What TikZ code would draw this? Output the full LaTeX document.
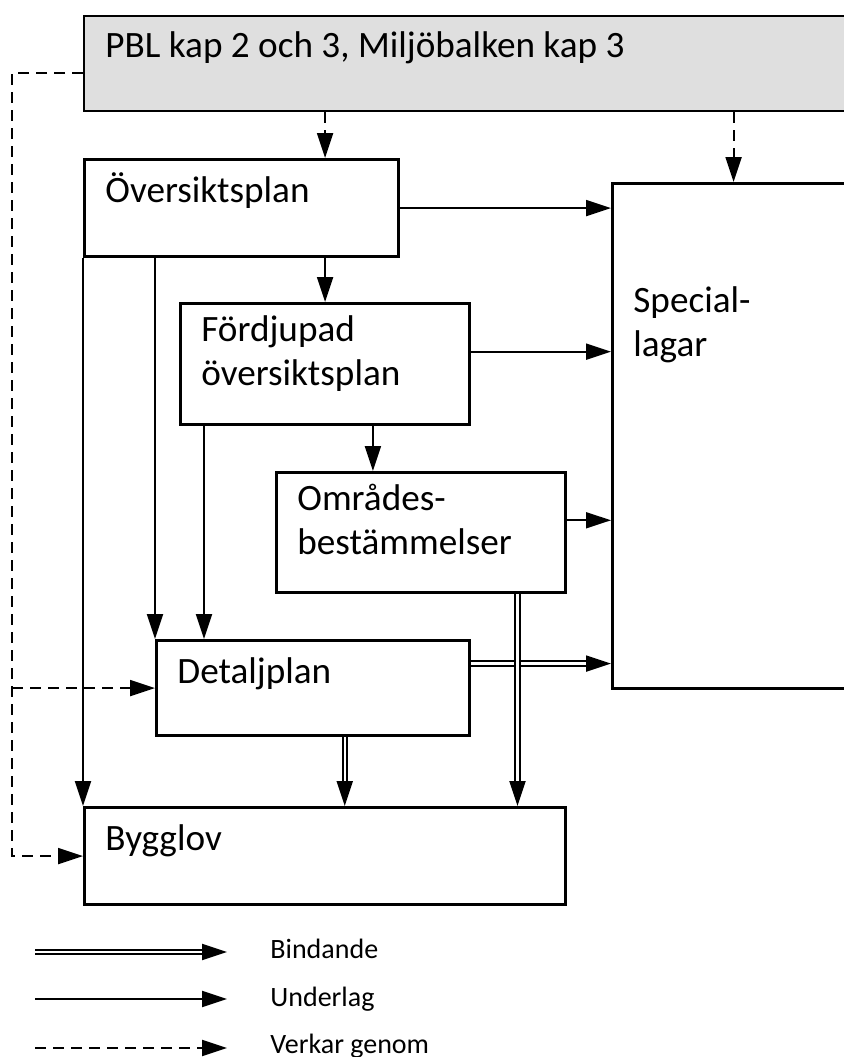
\documentclass[tikz,border=0pt]{standalone}
\usepackage{fontspec}
\setmainfont{Carlito}
\usetikzlibrary{positioning,arrows.meta,calc}

\begin{document}
\begin{tikzpicture}[x=0.5pt, y=-0.5pt,
box/.style={draw=black, line width=1.6pt, rectangle, anchor=north west, inner sep=0pt},
boxtext/.style={anchor=north west, inner sep=0pt, xshift=11pt, yshift=-6.6pt, align=left, font=\fontsize{18.6}{22}\selectfont, execute at begin node=\strut},
under/.style={line width=1pt, -{Triangle[length=12.5pt,width=8pt]}},
bind/.style={under, double, double distance=1.2pt},
verk/.style={under, dash pattern=on 5.5pt off 3.5pt},
legtext/.style={anchor=base west, inner sep=0pt, font=\fontsize{14}{17}\selectfont}
]
    \useasboundingbox (0,0) rectangle (844,1057);

    %Boxes
    \node[box, fill=gray!25, line width=1pt, minimum width=388.5pt, minimum height=47.5pt,
        label={[boxtext, yshift=1pt]north west:PBL kap 2 och 3, Miljöbalken kap 3}]
        (pbl) at (83,15) {};
    \node[box, minimum width=157pt, minimum height=48.5pt,
        label={[boxtext]north west:Översiktsplan}]
        (ov) at (83,158) {};
    \node[box, minimum width=121pt, minimum height=252.5pt,
        label={[boxtext, yshift=-45.5pt]north west:Special-\\lagar}]
        (sp) at (611,182) {};
    \node[box, minimum width=144.5pt, minimum height=60.5pt,
        label={[boxtext]north west:Fördjupad\\översiktsplan}]
        (fd) at (179,302) {};
    \node[box, minimum width=144.5pt, minimum height=60pt,
        label={[boxtext]north west:Områdes-\\bestämmelser}]
        (om) at (275,471) {};
    \node[box, minimum width=156.5pt, minimum height=47.5pt,
        label={[boxtext]north west:Detaljplan}]
        (dp) at (155,639) {};
    \node[box, minimum width=240.5pt, minimum height=48.5pt,
        label={[boxtext]north west:Bygglov}]
        (bg) at (83,806) {};

    %Helper points
    \coordinate (lx) at (12,0);
    \coordinate (fdl) at ($(fd.south west)+(25,0)$);
    \coordinate (fde) at ($(fd.north east)!0.4!(fd.south east)$);
    \coordinate (fdo) at ($(om.north west)!0.335!(om.north east)$);
    \coordinate (ome) at ($(om.north east)!0.4!(om.south east)$);
    \coordinate (dpe) at ($(dp.north east)!0.25!(dp.south east)$);
    \coordinate (dps) at ($(dp.south west)!0.6!(dp.south east)$);
    \coordinate (oms) at ($(om.south west)!0.83!(om.south east)$);

    %Verkar genom
    \draw[verk] ($(pbl.north west)!0.6!(pbl.south west)$) -| (lx |- bg.west) -- (bg.west);
    \draw[verk] (lx |- dp.west) -- (dp.west);
    \draw[verk] (pbl.south -| fd.north) -- (ov.north -| fd.north);
    \draw[verk] (pbl.south -| sp.north) -- (sp.north);

    %Underlag
    \draw[under] (ov.east) -- (ov.east -| sp.west);
    \draw[under] (ov.south -| fd.north) -- (fd.north);
    \draw[under] (ov.south west) -- (bg.north west);
    \draw[under] (ov.south -| dp.north west) -- (dp.north west);
    \draw[under] (fdl) -- (fdl |- dp.north);
    \draw[under] (fde) -- (fde -| sp.west);
    \draw[under] (fdo |- fd.south) -- (fdo);
    \draw[under] (ome) -- (ome -| sp.west);

    %Bindande
    \draw[bind] (dpe) -- (dpe -| sp.west);
    \draw[bind] (dps) -- (dps |- bg.north);
    \draw[bind] (oms) -- (oms |- bg.north);

    %Legend
    \coordinate (b0) at (35,952);
    \coordinate (b1) at (227,952);
    \coordinate (u0) at (35,999);
    \coordinate (u1) at (227,999);
    \coordinate (v0) at (35,1048);
    \coordinate (v1) at (227,1048);
    \draw[bind] (b0) -- (b1);
    \draw[under] (u0) -- (u1);
    \draw[verk] (v0) -- (v1);
    \node[legtext] (lb) at (270,958) {Bindande};
    \node[legtext] (lu) at (270,1006) {Underlag};
    \node[legtext] (lv) at (270,1053) {Verkar genom};
\end{tikzpicture}
\end{document}
